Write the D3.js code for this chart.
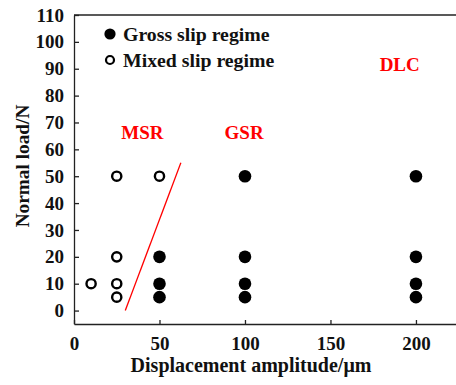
<!DOCTYPE html>
<html>
<head>
<meta charset="utf-8">
<script src="https://cdn.jsdelivr.net/npm/d3@7"></script>
<style>
  html, body { margin: 0; padding: 0; background: #fff; }
  svg { display: block; }
  text { font-family: "Liberation Serif", "Times New Roman", serif; font-weight: bold; }
</style>
</head>
<body>
<svg id="chart" width="456" height="385"></svg>
<script>
// Data
const grossX = [50, 50, 50, 100, 100, 100, 100, 200, 200, 200, 200];
const grossY = [5, 10, 20, 5, 10, 20, 50, 5, 10, 20, 50];
const mixedX = [10, 25, 25, 25, 25, 50];
const mixedY = [10, 5, 10, 20, 50, 50];
const boundaryX = [30, 62.5];
const boundaryY = [0, 55];
const xTicks = [0, 50, 100, 150, 200];
const yTicks = [0, 10, 20, 30, 40, 50, 60, 70, 80, 90, 100, 110];
const legendLabels = ["Gross slip regime", "Mixed slip regime"];
const regionLabels = [
  { text: "MSR", x: 40, y: 64 },
  { text: "GSR", x: 99.5, y: 64 },
  { text: "DLC", x: 190.5, y: 89 }
];
const xTitle = "Displacement amplitude/\u03bcm";
const yTitle = "Normal load/N";

const svg = d3.select("#chart");
const x = d3.scaleLinear().domain([0, 225]).range([74, 458.7]);
const y = d3.scaleLinear().domain([-5, 110]).range([324, 15]);
const axisColor = "#222";

// Top border
svg.append("line")
  .attr("x1", x(0)).attr("x2", x(225))
  .attr("y1", y(110)).attr("y2", y(110))
  .attr("stroke", axisColor).attr("stroke-width", 1.3);

// Y axis
const gy = svg.append("g").attr("transform", `translate(${x(0)},0)`)
  .call(d3.axisLeft(y).tickValues(yTicks).tickSizeInner(-5).tickSizeOuter(0).tickPadding(10));
gy.select(".domain").attr("stroke", axisColor).attr("stroke-width", 1.3);
gy.selectAll(".tick line").attr("stroke", axisColor).attr("stroke-width", 1.3);
gy.selectAll(".tick text").attr("font-size", 19).attr("fill", "#111")
  .style("font-family", '"Liberation Serif", serif').style("font-weight", "bold");

// X axis
const gx = svg.append("g").attr("transform", `translate(0,${y(-5)})`)
  .call(d3.axisBottom(x).tickValues(xTicks).tickSizeInner(-4).tickSizeOuter(0).tickPadding(10));
gx.select(".domain").attr("stroke", axisColor).attr("stroke-width", 1.3);
gx.selectAll(".tick line").attr("stroke", axisColor).attr("stroke-width", 1.3);
gx.selectAll(".tick text").attr("font-size", 19).attr("fill", "#111")
  .attr("y", 26).attr("dy", 0)
  .style("font-family", '"Liberation Serif", serif').style("font-weight", "bold");

// Boundary line
svg.append("line")
  .attr("x1", x(boundaryX[0])).attr("y1", y(boundaryY[0]))
  .attr("x2", x(boundaryX[1])).attr("y2", y(boundaryY[1]))
  .attr("stroke", "#ff0000").attr("stroke-width", 1.3);

// Gross slip points
svg.append("g").selectAll("circle")
  .data(grossX.map((d, i) => [d, grossY[i]]))
  .join("circle")
  .attr("cx", d => x(d[0])).attr("cy", d => y(d[1]))
  .attr("r", 6.3).attr("fill", "#000");

// Mixed slip points
svg.append("g").selectAll("circle")
  .data(mixedX.map((d, i) => [d, mixedY[i]]))
  .join("circle")
  .attr("cx", d => x(d[0])).attr("cy", d => y(d[1]))
  .attr("r", 4.6).attr("fill", "#fff").attr("stroke", "#000").attr("stroke-width", 2.4);

// Legend
svg.append("circle").attr("cx", 110).attr("cy", 34).attr("r", 5.6).attr("fill", "#000");
svg.append("circle").attr("cx", 110).attr("cy", 60).attr("r", 4).attr("fill", "#fff")
  .attr("stroke", "#000").attr("stroke-width", 2.2);
svg.append("g").selectAll("text").data(legendLabels).join("text")
  .attr("x", 123).attr("y", (d, i) => 41 + i * 25.5)
  .attr("font-size", 19.8).attr("fill", "#111").text(d => d);

// Region labels
svg.append("g").selectAll("text").data(regionLabels).join("text")
  .attr("x", d => x(d.x)).attr("y", d => y(d.y))
  .attr("text-anchor", "middle")
  .attr("font-size", 19).attr("fill", "#ff0000").text(d => d.text);

// Axis titles
svg.append("text").attr("x", 251).attr("y", 372)
  .attr("text-anchor", "middle").attr("font-size", 20).attr("fill", "#111").text(xTitle);
svg.append("text").attr("transform", "translate(29,166) rotate(-90)")
  .attr("text-anchor", "middle").attr("font-size", 19.3).attr("fill", "#111").text(yTitle);
</script>
</body>
</html>
